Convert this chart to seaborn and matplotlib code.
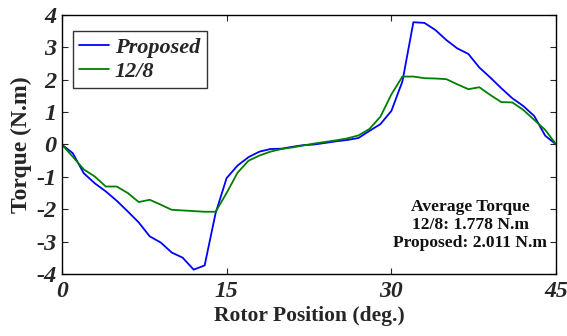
import numpy as np
import pandas as pd
import matplotlib
matplotlib.use("Agg")
import matplotlib.pyplot as plt
import matplotlib.transforms as mtransforms
import seaborn as sns

position = list(range(46))
proposed = [0.0, -0.27, -0.89, -1.2, -1.45, -1.74, -2.07, -2.41, -2.84, -3.03,
            -3.34, -3.5, -3.87, -3.74, -2.12, -1.04, -0.65, -0.39, -0.22, -0.14,
            -0.13, -0.07, -0.02, 0.0, 0.05, 0.1, 0.14, 0.2, 0.42, 0.63,
            1.04, 1.95, 3.78, 3.76, 3.54, 3.23, 2.97, 2.8, 2.38, 2.07,
            1.74, 1.43, 1.19, 0.88, 0.27, 0.0]
ref_128 = [0.0, -0.38, -0.77, -0.99, -1.3, -1.3, -1.5, -1.78, -1.71, -1.86,
           -2.02, -2.04, -2.06, -2.08, -2.08, -1.5, -0.87, -0.5, -0.34, -0.22,
           -0.14, -0.09, -0.03, 0.03, 0.08, 0.13, 0.19, 0.28, 0.48, 0.86,
           1.55, 2.1, 2.1, 2.05, 2.04, 2.02, 1.86, 1.71, 1.77, 1.53,
           1.31, 1.3, 1.07, 0.76, 0.45, 0.0]
series_names = ["Proposed", "12/8"]
xticks = [0, 15, 30, 45]
yticks = [-4, -3, -2, -1, 0, 1, 2, 3, 4]

df = pd.DataFrame({
    "pos": position * 2,
    "torque": proposed + ref_128,
    "series": [series_names[0]] * 46 + [series_names[1]] * 46,
})

sns.set_style("ticks")
plt.rcParams["font.family"] = ["Liberation Serif", "DejaVu Serif"]

fig = plt.figure(figsize=(5.67, 3.36), dpi=100)
ax = fig.add_axes([0.109, 0.185, 0.872, 0.770])
sns.lineplot(data=df, x="pos", y="torque", hue="series",
             palette={"Proposed": "#0000ff", "12/8": "#007f00"},
             linewidth=1.3, ax=ax)

ax.set_xlim(0, 45)
ax.set_ylim(-4, 4)
ax.set_xticks(xticks)
ax.set_yticks(yticks)
ax.set_xticklabels([str(t) for t in xticks], fontsize=17, fontweight="bold", fontstyle="italic")
ax.set_yticklabels([str(t) for t in yticks], fontsize=17.5, fontweight="bold", fontstyle="italic")
ax.tick_params(direction="in", top=True, right=True, length=4, width=0.8)
ax.tick_params(axis="x", pad=5)
ax.tick_params(axis="y", pad=4)
for s in ax.spines.values():
    s.set_visible(True)
    s.set_linewidth(1.0)
    s.set_color("black")

ax.set_xlabel("Rotor Position (deg.)", fontsize=15.5, fontweight="bold", labelpad=3)
ax.set_ylabel("Torque (N.m)", fontsize=17, fontweight="bold", labelpad=3)

leg = ax.legend(loc="upper left", bbox_to_anchor=(0.022, 0.94),
                prop={"size": 16, "weight": "bold", "style": "italic", "family": "Liberation Serif"},
                frameon=True, fancybox=False, edgecolor="black",
                handlelength=1.35, borderpad=0.3, labelspacing=0.15, handletextpad=0.25,
                borderaxespad=0.0)
leg.get_frame().set_linewidth(1.0)

ax.text(470, 336 - 225, "Average Torque\n12/8: 1.778 N.m\nProposed: 2.011 N.m",
        transform=mtransforms.IdentityTransform(), fontsize=12.6, fontweight="bold",
        ha="center", va="center", linespacing=1.2, color="#111111")

fig.savefig("out.png", dpi=100)
